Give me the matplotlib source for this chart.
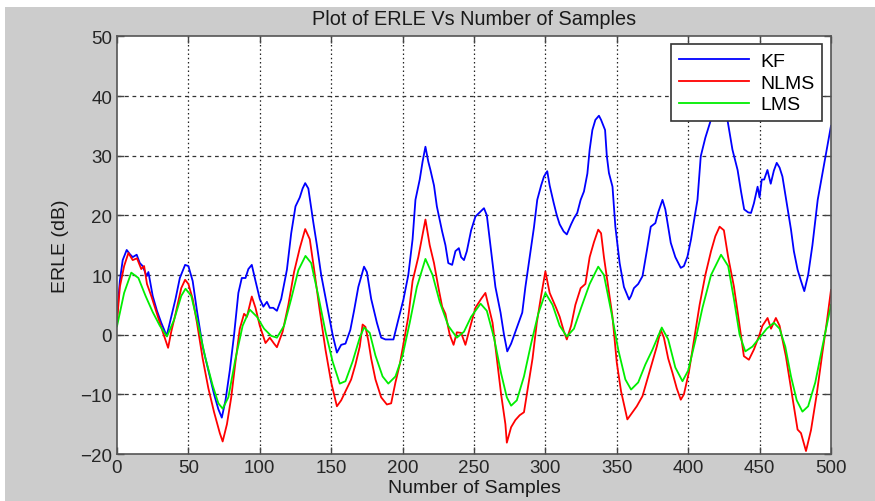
import matplotlib
matplotlib.use("Agg")
import matplotlib.pyplot as plt
import numpy as np
from matplotlib.patches import Rectangle

plt.rcParams['font.family'] = ['Liberation Sans', 'DejaVu Sans']

# KF curve samples (sample index, ERLE dB)
kf_n = [0, 2, 4, 6.8, 9, 11, 13.8, 16, 18, 20.8, 22, 25, 28, 31, 34.8, 38, 41, 44, 47.7, 50,
        53, 56, 60, 64, 68, 71, 73.4, 76, 79, 82, 85, 87.4, 90, 92, 94.4, 97, 100, 102.5, 105, 107,
        109.4, 112, 115, 119, 122, 125, 128, 130, 131.8, 134, 137.5, 140, 143, 147, 151, 154, 157, 160, 163.4, 166,
        169, 173, 175, 178, 182, 185, 188, 193.6, 197, 200.6, 204, 207, 209, 212, 214, 216, 218, 219.5, 222, 224,
        227.7, 230, 232, 234.7, 237, 239.4, 241, 243, 245, 248, 251, 254, 257, 259, 262, 265, 268.6, 271, 273.3, 276,
        279, 283.8, 286, 289, 292, 294.3, 297, 299, 301.3, 303, 305.8, 308, 310, 312.8, 315, 318, 320, 322.3, 324.7, 327,
        329.4, 331, 332.9, 335, 337.5, 339, 341.8, 343, 344.5, 347, 349, 352, 355, 358.6, 360, 362, 365, 368, 371, 373.8,
        377, 379, 382, 384, 387.8, 391, 394.8, 397, 399.5, 402, 404, 406.5, 408.8, 412, 415.9, 418, 420, 422, 425, 427.5,
        431, 434.6, 437, 439.2, 442, 444, 446, 448.6, 450, 451.5, 453.2, 455.5, 457.8, 460, 462, 464, 466, 469, 472, 474,
        476.6, 479, 481.3, 484, 487, 490.7, 494, 497, 500]
kf_db = [3, 9, 12.5, 14.2, 13.5, 13, 13.4, 12, 11.5, 9.8, 10.5, 6.5, 4, 2, -0.2, 3, 6, 9.5, 11.7, 11.5,
         9, 4, -2, -6, -10, -12.5, -13.9, -11, -6, 0, 7, 9.5, 9.5, 11, 11.7, 9, 6, 4.7, 5.5, 4.5,
         4.5, 4, 6, 10.9, 17, 21.5, 23, 24.5, 25.4, 24.5, 18.8, 15, 10, 5, 0, -3, -1.7, -1.5, 0.8, 4,
         8, 11.4, 10.5, 6, 2, -0.5, -0.8, -0.8, 2.5, 5.9, 10, 16, 22.6, 26, 29, 31.5, 29, 27.6, 25, 21.5,
         17.3, 15, 12, 11.7, 14, 14.5, 13, 12.5, 14, 17.5, 19.8, 20.5, 21.2, 20, 14, 8, 3.7, 0, -2.8, -1.5,
         0.5, 3.7, 8, 13, 18, 22.6, 25, 26.5, 27.4, 25, 22.1, 20, 18.5, 17.3, 16.8, 18.5, 19.5, 20.4, 22.6, 24,
         27, 31, 34.3, 36, 36.7, 36, 34.3, 30, 27.1, 24.8, 18.1, 12, 8, 5.9, 6.5, 7.8, 8.5, 9.8, 14, 18.1,
         18.7, 20.5, 22.6, 21, 15.4, 13, 11.2, 11.5, 13.1, 16, 19, 22.6, 29.9, 33, 36, 39, 40.5, 39.5, 37.5, 36,
         31, 27.6, 24, 21, 20.5, 20.4, 22, 24.8, 23, 26, 26, 27.6, 25.3, 27.5, 28.8, 28, 26.5, 22, 17.6, 14,
         10.9, 9, 7.3, 10, 15, 22.6, 27, 31, 35]

# NLMS curve samples
nlms_n = [0, 2, 5, 8, 11, 14, 17, 19, 21, 24, 28, 32, 35.8, 38, 41, 45, 47.7, 50, 53, 56,
          60, 64, 68, 72, 74, 77, 80, 83, 86, 89, 91, 94.4, 97, 100, 104, 107, 110, 112, 116, 120,
          124, 128, 131.8, 135, 138, 142, 146, 150, 154, 157, 161, 164, 167, 170, 172, 174, 176, 178, 181, 185,
          189, 192, 195, 198, 201, 204, 207, 211, 216, 219, 222, 225, 227.7, 230, 233, 235.7, 238, 241, 244, 247,
          251, 255, 258, 260, 263, 266, 269, 272, 273, 276, 279, 282, 285, 288, 291, 294, 297, 300, 303, 307.5,
          310, 313, 315, 318, 321, 324.7, 328, 331, 334, 337, 339, 341, 344, 347, 350, 353, 357.4, 361, 364, 368,
          372, 375, 378, 380.8, 383, 386, 389, 392, 394.8, 397, 400.4, 404, 408, 412, 416, 419, 422, 425, 428, 432,
          436, 439, 442.5, 446, 449.5, 452, 455.6, 458, 461.4, 464, 468.4, 472, 476.6, 479, 482.5, 486, 490, 494, 497, 500]
nlms_db = [2, 8, 11.5, 13.7, 12.5, 12.8, 11, 11.5, 8.5, 6.5, 3.5, 0.5, -2.2, 0.5, 3.5, 7.8, 9.2, 8.5, 6, 2,
           -4, -9, -13, -16.5, -17.9, -15, -10.5, -4.5, 1, 3.5, 3, 6.4, 4.5, 1.5, -1.4, -0.5, -1.5, -2.1, 0.5, 5,
           10.5, 14.5, 17.7, 16, 11, 4, -2.5, -8, -12, -11, -9, -7.5, -5, -2, 1.7, 1.3, -1, -4, -7.5, -10.5,
           -11.7, -11.5, -8, -5, -1, 3, 9, 13, 19.3, 15, 12, 8, 4.7, 3.5, 0, -1.7, 0.4, 0.3, -1.7, 1,
           4.5, 6, 7, 5, 2, -4, -10, -15, -18.1, -15.5, -14.3, -13.5, -13, -8.5, -4, 2, 6.5, 10.6, 7, 4.5,
           3, 0.5, -0.8, 1.5, 5, 7.8, 8.5, 13, 15.5, 17.6, 17, 13, 8, 3, -4.7, -9.5, -14.2, -13, -12, -10.3,
           -7, -4.5, -2, 0.8, -0.5, -4, -6.4, -9, -10.9, -10, -6.4, -1, 5, 10, 14, 16.5, 18.1, 17.5, 13, 8.1,
           1.5, -3.6, -4.2, -2.5, -0.3, 1.5, 2.8, 1, 2.8, 1.5, -3.6, -9, -15.9, -16.5, -19.5, -16, -10, -3, 2, 7.5]

# LMS curve samples
lms_n = [0, 5, 10, 15, 20, 25, 30, 35, 40, 45, 48, 52, 57, 62, 67, 71, 74, 78, 83, 88,
         93, 98, 103, 108, 112, 117, 122, 127, 132, 136, 141, 146, 151, 156, 160, 165, 170, 173, 177, 181,
         186, 190, 195, 200, 205, 210, 216, 221, 226, 232, 238, 243, 248, 254.6, 259, 264, 269, 273, 276, 280,
         285, 290, 295, 300, 305, 310, 315, 320, 325, 331, 337, 341, 346, 351, 356, 360, 365, 370, 375, 381.5,
         386, 391, 396, 400, 405, 410, 416, 423, 428, 432, 436, 440, 445, 450, 455, 460, 464, 468, 472, 476,
         480, 484, 489, 494, 500]
lms_db = [1.4, 7, 10.4, 9.5, 6.5, 3.8, 1.5, -0.3, 2.5, 6.5, 7.7, 6.5, 1.5, -4, -8.5, -11.5, -12.4, -10.5, -4, 1.5,
          4.2, 3, 1, -0.2, -0.5, 1.5, 6, 10.8, 13.2, 12, 6.5, 0.5, -4.5, -8.2, -7.8, -4.5, -0.5, 1.2, 0.3, -3.5,
          -7, -8.2, -7, -3.5, 2, 8, 12.7, 10, 5.5, 1.5, -0.5, 0.5, 3, 5.2, 4, -0.5, -6.5, -10.5, -11.9, -11,
          -7, -1.5, 3.5, 7, 5, 1.5, -0.3, 1, 4.5, 8.5, 11.4, 10, 4, -2.5, -7.5, -9.2, -8, -5, -2.5, 1.2,
          -0.8, -5.5, -7.8, -6, -1, 4.5, 10, 13.4, 11.5, 6, 0, -2.8, -2, -0.5, 1, 2, 1, -2, -7, -11,
          -12.9, -12, -8, -2, 5]

x_ticks = [0, 50, 100, 150, 200, 250, 300, 350, 400, 450, 500]
y_ticks = [-20, -10, 0, 10, 20, 30, 40, 50]

fig = plt.figure(figsize=(8.75, 5.02), dpi=100, facecolor='#cccccc')
fig.patches.append(Rectangle((0, 0.984), 1, 0.016, transform=fig.transFigure,
                             facecolor='white', edgecolor='none', zorder=-1))
fig.patches.append(Rectangle((0, 0), 0.006, 1, transform=fig.transFigure,
                             facecolor='white', edgecolor='none', zorder=-1))

ax = fig.add_axes([0.1337, 0.0936, 0.816, 0.832])
ax.set_facecolor('white')

ax.plot(kf_n, kf_db, color='#0000ff', lw=1.3, label='KF')
ax.plot(nlms_n, nlms_db, color='#ff0000', lw=1.3, label='NLMS')
ax.plot(lms_n, lms_db, color='#00ee00', lw=1.3, label='LMS')

ax.set_xlim(0, 500)
ax.set_ylim(-20, 50)
ax.set_xticks(x_ticks)
ax.set_yticks(y_ticks)

for xv in x_ticks[1:-1]:
    ax.axvline(xv, color='#222222', lw=0.9, ls=(0, (1.2, 2.2)), zorder=0.5)
for yv in y_ticks[1:-1]:
    ax.axhline(yv, color='#333333', lw=0.9, ls=(0, (3, 3)), zorder=0.5)

ax.tick_params(direction='in', top=True, right=True, length=5, width=1,
               labelsize=13.5, colors='#444444')
for lab in ax.get_xticklabels() + ax.get_yticklabels():
    lab.set_color('#262626')
for s in ax.spines.values():
    s.set_color('#555555')
    s.set_linewidth(1.2)

ax.set_title('Plot of ERLE Vs Number of Samples', fontsize=14.3, color='#1a1a1a', pad=9)
ax.set_xlabel('Number of Samples', fontsize=14, color='#1a1a1a', labelpad=2)
ax.set_ylabel('ERLE (dB)', fontsize=14, color='#1a1a1a', labelpad=8)

leg = ax.legend(loc='upper right', bbox_to_anchor=(0.988, 0.981), fontsize=14,
                handlelength=3.6, fancybox=False, framealpha=1, borderpad=0.4,
                labelspacing=0.22, handletextpad=0.6, borderaxespad=0)
leg.get_frame().set_edgecolor('#333333')
leg.get_frame().set_linewidth(1.2)

fig.savefig('out.png', dpi=100, facecolor=fig.get_facecolor())
